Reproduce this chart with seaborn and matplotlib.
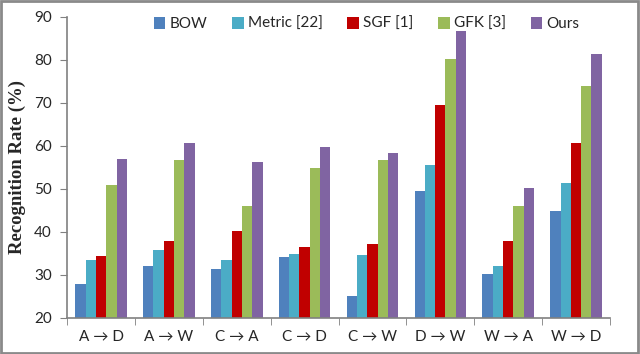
import matplotlib
matplotlib.use("Agg")
import matplotlib.pyplot as plt
import seaborn as sns
import pandas as pd
from matplotlib.patches import Rectangle

categories = ["A → D", "A → W", "C → A", "C → D", "C → W", "D → W", "W → A", "W → D"]
methods = ["BOW", "Metric [22]", "SGF [1]", "GFK [3]", "Ours"]
bow    = [27.9, 32.1, 31.3, 34.1, 25.0, 49.5, 30.1, 44.8]
metric = [33.5, 35.9, 33.5, 34.8, 34.6, 55.5, 32.1, 51.3]
sgf    = [34.4, 37.8, 40.1, 36.6, 37.1, 69.5, 38.0, 60.6]
gfk    = [50.9, 56.8, 46.0, 54.8, 56.8, 80.2, 46.0, 74.0]
ours   = [57.0, 60.6, 56.2, 59.8, 58.4, 86.8, 50.2, 81.3]
colors = ["#4F81BD", "#4BACC6", "#C00000", "#9BBB59", "#8064A2"]

rows = []
for m, vals in zip(methods, [bow, metric, sgf, gfk, ours]):
    for c, v in zip(categories, vals):
        rows.append({"Transfer": c, "Method": m, "Rate": v})
df = pd.DataFrame(rows)

sns.set_style("white")
plt.rcParams['font.family'] = ['Lato', 'DejaVu Sans']

fig = plt.figure(figsize=(6.4, 3.54), dpi=100)
ax = fig.add_axes([0.105, 0.102, 0.848, 0.85])
sns.barplot(data=df, x="Transfer", y="Rate", hue="Method", palette=colors,
            width=0.76, saturation=1, ax=ax, edgecolor="none", linewidth=0)

ax.set_ylim(20, 90)
ax.set_xlim(-0.5, len(categories) - 0.5)
ax.set_yticks(range(20, 91, 10))
ax.tick_params(axis='y', labelsize=11, length=5, color='#808080', left=True, direction='out', pad=6)
ax.set_xticks(range(len(categories)))
ax.set_xticklabels(categories, fontsize=11)
ax.tick_params(axis='x', which='major', length=0, pad=9)
ax.set_xticks([i - 0.5 for i in range(len(categories) + 1)], minor=True)
ax.tick_params(axis='x', which='minor', length=5, color='#808080', bottom=True, direction='out')
for s in ['top', 'right']:
    ax.spines[s].set_visible(False)
for s in ['left', 'bottom']:
    ax.spines[s].set_color('#808080')
    ax.spines[s].set_linewidth(1.2)
ax.set_xlabel("")
ax.set_ylabel("Recognition Rate (%)", family=['Liberation Serif'], fontweight='bold', fontsize=13.5, labelpad=6)

leg = ax.legend(loc='upper center', bbox_to_anchor=(0.552, 1.045), ncol=5, frameon=False,
                fontsize=11, handlelength=0.75, handleheight=0.75, handletextpad=0.3,
                columnspacing=1.6)

fig.patches.append(Rectangle((0.002, 0.003), 0.995, 0.993, transform=fig.transFigure,
                             fill=False, edgecolor='#8a8a8a', linewidth=2.0))
fig.savefig("out.png", dpi=100)
